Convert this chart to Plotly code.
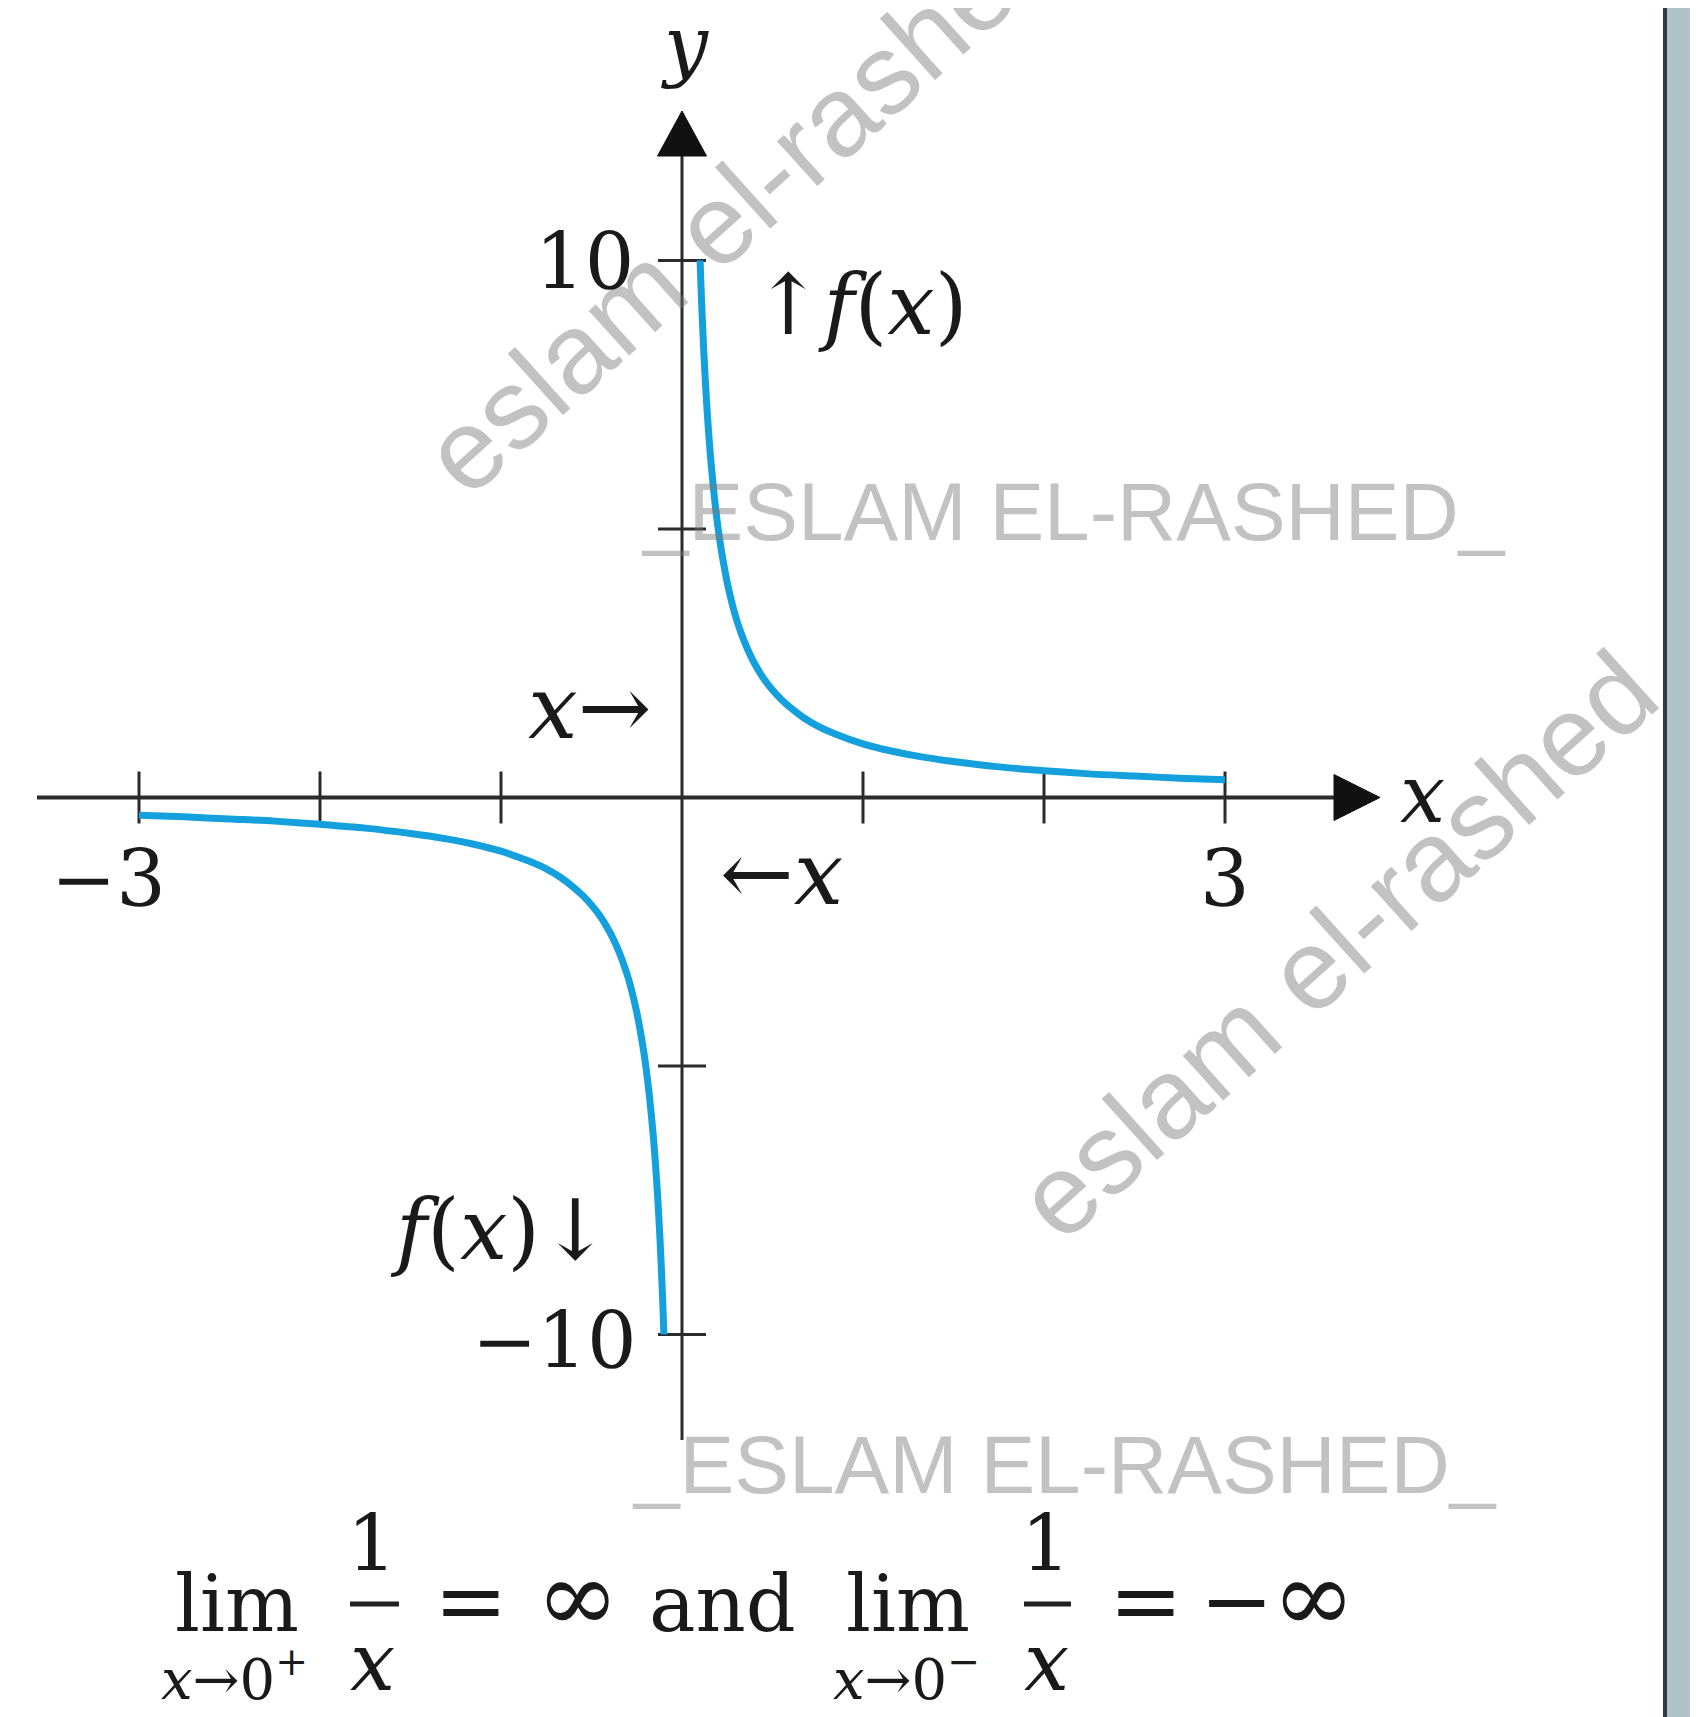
import plotly.graph_objects as go

W, H = 1698, 1717
OFF = 8                      # default page margin around the plot div
FW, FH = W - OFF, H - OFF    # figure size so that the plot fills the window

x_right = [0.1, 0.105, 0.11, 0.115, 0.12, 0.13, 0.14, 0.15, 0.16, 0.18, 0.2, 0.22,
           0.25, 0.28, 0.3, 0.33, 0.36, 0.4, 0.45, 0.5, 0.55, 0.6, 0.67, 0.75,
           0.85, 1.0, 1.15, 1.3, 1.5, 1.75, 2.0, 2.25, 2.5, 2.75, 3.0]
y_right = [10.0, 9.52, 9.09, 8.7, 8.33, 7.69, 7.14, 6.67, 6.25, 5.56, 5.0, 4.55,
           4.0, 3.57, 3.33, 3.03, 2.78, 2.5, 2.22, 2.0, 1.82, 1.67, 1.49, 1.33,
           1.18, 1.0, 0.87, 0.77, 0.67, 0.57, 0.5, 0.44, 0.4, 0.36, 0.33]
x_left = [-3.0, -2.75, -2.5, -2.25, -2.0, -1.75, -1.5, -1.3, -1.15, -1.0, -0.85,
          -0.75, -0.67, -0.6, -0.55, -0.5, -0.45, -0.4, -0.36, -0.33, -0.3, -0.28,
          -0.25, -0.22, -0.2, -0.18, -0.16, -0.15, -0.14, -0.13, -0.12, -0.115,
          -0.11, -0.105, -0.1]
y_left = [-0.33, -0.36, -0.4, -0.44, -0.5, -0.57, -0.67, -0.77, -0.87, -1.0, -1.18,
          -1.33, -1.49, -1.67, -1.82, -2.0, -2.22, -2.5, -2.78, -3.03, -3.33, -3.57,
          -4.0, -4.55, -5.0, -5.56, -6.25, -6.67, -7.14, -7.69, -8.33, -8.7,
          -9.09, -9.52, -10.0]

x_ticks = [-3, -2, -1, 1, 2, 3]
y_ticks = [-10, -5, 5, 10]
x_tick_labels = {-3: "\u22123", 3: "3"}
y_tick_labels = {10: "10", -10: "\u221210"}

# ---- pixel geometry of the drawing (window pixels) ----
X0PX, XK = 682.0, 181.0      # pixel of x=0, pixels per x unit
Y0PX, YK = 797.5, 53.7       # pixel of y=0, pixels per y unit

def px2x(p):
    return (p - X0PX) / XK

def py2y(p):
    return (Y0PX - p) / YK

def PX(p):
    return (p - OFF) / FW

def PY(p):
    return 1 - (p - OFF) / FH

AX = "#2b2b2b"
BLUE = "#14a0dc"
WM = "rgba(120,120,120,0.45)"
SERIF = "DejaVu Serif"

fig = go.Figure()
fig.add_trace(go.Scatter(x=x_right, y=y_right, mode="lines",
                         line=dict(color=BLUE, width=7, shape="spline", smoothing=0.8),
                         hoverinfo="skip", showlegend=False))
fig.add_trace(go.Scatter(x=x_left, y=y_left, mode="lines",
                         line=dict(color=BLUE, width=7, shape="spline", smoothing=0.8),
                         hoverinfo="skip", showlegend=False))

shapes = []
# x axis line + arrowhead
xa0, xa1, xtip = px2x(37), px2x(1334), px2x(1380)
shapes.append(dict(type="line", xref="x", yref="y", x0=xa0, x1=xa1, y0=0, y1=0,
                   line=dict(color=AX, width=4), layer="below"))
hh = 23 / YK
shapes.append(dict(type="path", xref="x", yref="y",
                   path=f"M{xa1},{hh} L{xtip},0 L{xa1},{-hh} Z",
                   fillcolor="#111", line=dict(color="#111", width=1), layer="below"))
# y axis line + arrowhead
ya0, ya1, ytip = py2y(1440), py2y(156), py2y(111)
shapes.append(dict(type="line", xref="x", yref="y", x0=0, x1=0, y0=ya0, y1=ya1,
                   line=dict(color=AX, width=3), layer="below"))
hw = 24.5 / XK
shapes.append(dict(type="path", xref="x", yref="y",
                   path=f"M{-hw},{ya1} L0,{ytip} L{hw},{ya1} Z",
                   fillcolor="#111", line=dict(color="#111", width=1), layer="below"))
# ticks
tl = 26 / YK
for t in x_ticks:
    shapes.append(dict(type="line", xref="x", yref="y", x0=t, x1=t, y0=-tl, y1=tl,
                       line=dict(color=AX, width=3), layer="below"))
tw = 24 / XK
for t in y_ticks:
    shapes.append(dict(type="line", xref="x", yref="y", x0=-tw, x1=tw, y0=t, y1=t,
                       line=dict(color=AX, width=3), layer="below"))
# fraction bars of the formula
for a, b in [(350, 399), (1024, 1071)]:
    shapes.append(dict(type="line", xref="paper", yref="paper", x0=PX(a), x1=PX(b),
                       y0=PY(1604), y1=PY(1604), line=dict(color="#222", width=5)))
# right-hand border strip
shapes.append(dict(type="rect", xref="paper", yref="paper", x0=PX(1667), x1=1, y0=0, y1=1,
                   fillcolor="#b2c3c8", line=dict(width=0)))
shapes.append(dict(type="line", xref="paper", yref="paper", x0=PX(1665), x1=PX(1665), y0=0, y1=1,
                   line=dict(color="#2d3b3f", width=4)))

ann = []

def text(s, cx, baseline, size, family=SERIF, color="#1a1a1a", xanchor="center", angle=0):
    ann.append(dict(text=s, x=PX(cx), y=PY(baseline - 0.35 * size), xref="paper", yref="paper",
                    xanchor=xanchor, yanchor="middle", showarrow=False, textangle=angle,
                    font=dict(family=family, size=size, color=color)))

# watermarks
def wm(s, cx, cy, size, angle):
    ann.append(dict(text=s, x=PX(cx), y=PY(cy), xref="paper", yref="paper",
                    xanchor="center", yanchor="middle", showarrow=False, textangle=angle,
                    font=dict(family="Liberation Sans", size=size, color=WM)))

wm("eslam el-rashed", 742, 200, 114, -42)
wm("eslam el-rashed", 1336, 945, 114, -42)
wm("_ESLAM EL-RASHED_", 1073, 511, 82, 0)
wm("_ESLAM EL-RASHED_", 1064, 1464, 82, 0)

# axis labels and tick labels
text("<i>y</i>", 685, 72, 78)
text("<i>x</i>", 1422, 822, 80)
text(x_tick_labels[-3], 108, 906, 78)
text(x_tick_labels[3], 1225, 906, 78)
text(y_tick_labels[10], 636, 289, 78, xanchor="right")
text(y_tick_labels[-10], 639, 1368, 78, xanchor="right")

# approach annotations
text("\u2191<i>f</i>(<i>x</i>)", 860, 334, 84)
text("<i>f</i>(<i>x</i>)\u2193", 500, 1259, 84)
text("<i>x</i>\u2192", 589, 738, 88)
text("\u2190<i>x</i>", 781, 904, 88)

# limit statement
text("lim", 237, 1631, 78)
text("<i>x</i>\u21920<sup>+</sup>", 234, 1695, 56)
text("1", 372, 1571, 78)
text("<i>x</i>", 372, 1690, 80)
text("=", 471, 1631, 88)
text("\u221e", 577, 1631, 100)
text("and", 722, 1631, 78)
text("lim", 908, 1631, 78)
text("<i>x</i>\u21920<sup>\u2212</sup>", 906, 1695, 56)
text("1", 1046, 1571, 78)
text("<i>x</i>", 1046, 1690, 80)
text("=", 1146, 1631, 88)
text("\u2212", 1237, 1631, 88)
text("\u221e", 1313, 1631, 100)

fig.update_layout(
    width=FW, height=FH,
    margin=dict(l=0, r=0, t=0, b=0),
    paper_bgcolor="white", plot_bgcolor="white",
    xaxis=dict(range=[px2x(OFF), px2x(W)], visible=False, fixedrange=True),
    yaxis=dict(range=[py2y(H), py2y(OFF)], visible=False, fixedrange=True),
    shapes=shapes, annotations=ann, showlegend=False,
)

fig.write_html("out.html")
